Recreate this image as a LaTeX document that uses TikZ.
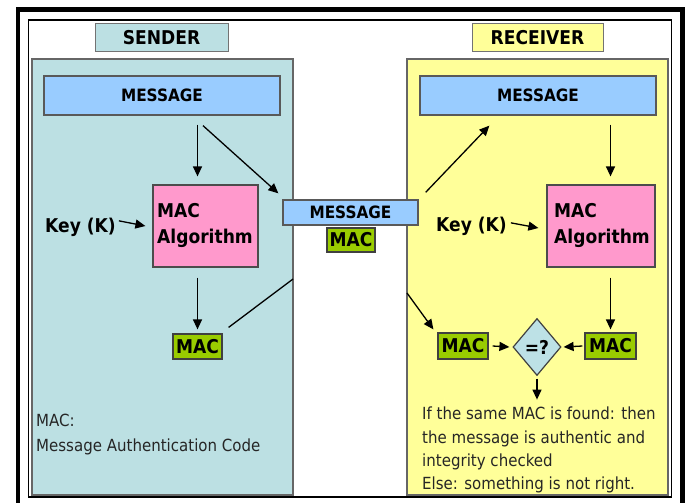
\documentclass[tikz,border=0pt]{standalone}
\usepackage{fontspec}
\setmainfont{DejaVu Sans}[FakeStretch=0.9]
\usetikzlibrary{shapes.geometric,arrows.meta,calc}
\definecolor{tealbg}{HTML}{BCE0E3}
\definecolor{msgblue}{HTML}{99CCFF}
\definecolor{pinkbox}{HTML}{FF99CC}
\definecolor{macgreen}{HTML}{99CC00}
\definecolor{yellbg}{HTML}{FFFF99}
\definecolor{diamc}{HTML}{BDE1E6}
\tikzset{
  panel/.style={draw=black!60, line width=1.2pt, inner sep=0pt},
  titlebox/.style={draw=black!55, line width=1pt, inner sep=0pt, font=\fontsize{19}{22}\selectfont\bfseries},
  msgbox/.style={draw=black!65, line width=1.3pt, fill=msgblue, inner sep=0pt, font=\fontsize{17}{20}\selectfont\bfseries},
  algbox/.style={draw=black!70, line width=1.2pt, fill=pinkbox, inner sep=0pt},
  macbox/.style={draw=black!75, line width=1.2pt, fill=macgreen, inner sep=0pt, font=\fontsize{19}{22}\selectfont\bfseries},
  bigbold/.style={inner sep=0pt, font=\fontsize{19}{26}\selectfont\bfseries},
  note/.style={inner sep=0pt, align=left, text=black!85},
  arr/.style={-{Triangle[length=10pt,width=9pt]}, line width=1.3pt},
  plain/.style={line width=1.3pt}
}
\begin{document}
\begin{tikzpicture}[x=1pt,y=-1pt]
\useasboundingbox (0,0) rectangle (689,503);
\fill[white] (0,0) rectangle (689,503);
% frame
\draw[line width=4.5pt] (18,515) -- (18,9.5) -- (682.5,9.5) -- (682.5,515);
\draw[line width=1.5pt] (28.5,20) rectangle (671.5,497);
% panels
\node[panel, fill=tealbg, minimum width=261pt, minimum height=436pt] (spanel) at (162.5,277) {};
\node[panel, fill=yellbg, minimum width=261pt, minimum height=436pt] (rpanel) at (537.5,277) {};
\node[titlebox, fill=tealbg, minimum width=133pt, minimum height=28pt] (stitle) at (161.5,38) {SENDER};
\node[titlebox, fill=yellbg, minimum width=131pt, minimum height=28pt] (rtitle) at (537.5,38) {RECEIVER};
% sender
\node[msgbox, minimum width=236pt, minimum height=39pt] (smsg) at (162,95.5) {MESSAGE};
\node[algbox, minimum width=105pt, minimum height=82pt] (spink) at (205.5,226) {};
\node[bigbold, anchor=north west, align=left] (spinktxt) at (157,203) {MAC\\Algorithm};
\node[bigbold, anchor=base west] (skey) at (45,232) {Key (K)};
\node[macbox, minimum width=49pt, minimum height=25pt] (smac) at (197.5,346.5) {MAC};
\node[note, anchor=north west, font=\fontsize{16.7}{25}\selectfont] (snote) at (36,413.5) {MAC:\\Message Authentication Code};
% middle
\node[msgbox, minimum width=135pt, minimum height=25pt] (mmsg) at (350.5,212.5) {MESSAGE};
\node[macbox, minimum width=48pt, minimum height=24pt] (mmac) at (351,240) {MAC};
% receiver
\node[msgbox, minimum width=236pt, minimum height=39pt] (rmsg) at (538,95.5) {MESSAGE};
\node[algbox, minimum width=108pt, minimum height=82pt] (rpink) at (601,226) {};
\node[bigbold, anchor=north west, align=left] (rpinktxt) at (554,203) {MAC\\Algorithm};
\node[bigbold, anchor=base west] (rkey) at (436,231) {Key (K)};
\node[macbox, minimum width=50pt, minimum height=26pt] (lmac) at (463,346) {MAC};
\node[macbox, minimum width=51pt, minimum height=26pt] (rmac) at (610.5,346) {MAC};
\node[diamond, draw=black!75, line width=1.2pt, fill=diamc, inner sep=0pt, minimum width=48pt, minimum height=57pt, font=\fontsize{19}{22}\selectfont\bfseries] (cmp) at (537,347) {=?};
\node[note, anchor=north west, font=\fontsize{16.7}{23.3}\selectfont] (rnote) at (422,407) {If the same MAC is found: then\\the message is authentic and\\integrity checked\\Else: something is not right.};
\coordinate (sedge) at (293,279);
\coordinate (redge) at (407,293);
% sender connectors
\draw[arr] ($(smac.north |- smsg.south)+(0,9)$) -- ($(smac.north |- spink.north)+(0,-8)$);
\draw[arr] ($(smsg.south)+(41,10)$) -- ($(mmsg.north west)+(-4,-6)$);
\draw[arr] ($(skey.east)+(3,-6)$) -- ($(spink.west)+(-7,0)$);
\draw[arr] ($(spink.south -| smac.north)+(0,10)$) -- ($(smac.north)+(0,-4)$);
\draw[plain] ($(smac.north east)+(6,-6)$) -- (sedge);
% receiver connectors
\draw[arr] ($(mmsg.north east)+(7,-7)$) -- ($(rmsg.south west)+(70,10)$);
\draw[arr] ($(rmac.north |- rmsg.south)+(0,9)$) -- ($(rmac.north |- rpink.north)+(0,-8)$);
\draw[arr] ($(rkey.east)+(4,-3)$) -- ($(rpink.west)+(-8,2)$);
\draw[arr] ($(rpink.south -| rmac.north)+(0,10)$) -- ($(rmac.north)+(0,-3)$);
\draw[arr] (redge) -- ($(lmac.north west)+(-4,-3)$);
\draw[arr] ($(lmac.east)+(4,0)$) -- ($(cmp.west)+(-3,0)$);
\draw[arr] ($(rmac.west)+(-2,0)$) -- ($(cmp.east)+(2,0)$);
\draw[arr] ($(cmp.south)+(0,2.5)$) -- ($(cmp.south)+(0,23.5)$);
\end{tikzpicture}
\end{document}
